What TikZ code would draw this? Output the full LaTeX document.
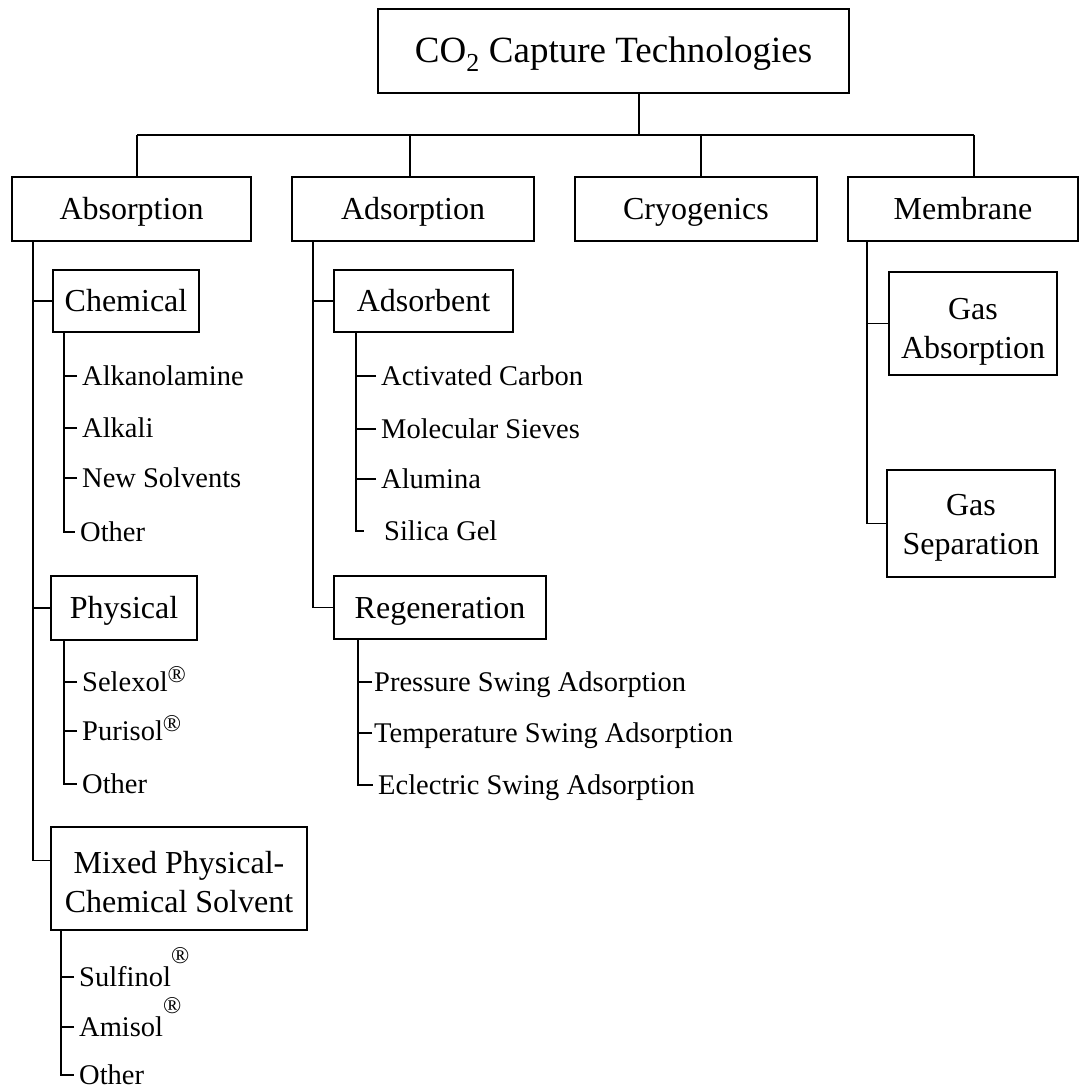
\documentclass[tikz,border=0pt]{standalone}
\usepackage{fontspec}
\setmainfont{Liberation Serif}
\usepackage{tikz}
\tikzset{TTnode/.style={draw,line width=1.6pt,inner sep=0pt,align=center,text height=24pt,text depth=0pt,font=\fontsize{37}{44}\selectfont},
	CTnode/.style={draw,line width=1.6pt,inner sep=0pt,align=center,font=\fontsize{32}{39}\selectfont},
	COnode/.style={CTnode,text height=21pt,text depth=0pt},
	LFnode/.style={anchor=west,inner xsep=5pt,inner ysep=0pt,text height=19pt,text depth=1pt,font=\fontsize{28.5}{32}\selectfont},
	CLine/.style={line width=1.4pt}}
\newcommand{\regA}{\raisebox{.3em}{\fontsize{24}{24}\selectfont\textregistered}}
\newcommand{\regB}{\raisebox{.8em}{\fontsize{24}{24}\selectfont\textregistered}}

\begin{document}
\begin{tikzpicture}[x=1pt,y=-1pt]
	\path[use as bounding box,fill=white] (0,0) rectangle (1081,1091);
	\node[TTnode,minimum width=471pt,minimum height=84pt] (T) at (613.5,51) {CO\textsubscript{2} Capture Technologies};
	\node[COnode,minimum width=239pt,minimum height=64pt] (A) at (131.5,209) {Absorption};
	\node[COnode,minimum width=242pt,minimum height=64pt] (B) at (413,209) {Adsorption};
	\node[COnode,minimum width=242pt,minimum height=64pt] (C) at (696,209) {Cryogenics};
	\node[COnode,minimum width=230pt,minimum height=64pt] (D) at (963,209) {Membrane};
	%
	\node[COnode,minimum width=146pt,minimum height=62pt] (A1) at (126,301) {Chemical};
	\node[COnode,minimum width=146pt,minimum height=64pt] (A2) at (124,608) {Physical};
	\node[CTnode,minimum width=256pt,minimum height=103pt] (A3) at (179,878.5) {\rule{0pt}{29pt}Mixed Physical-\\Chemical Solvent};
	\node[COnode,minimum width=179pt,minimum height=62pt] (B1) at (423.5,301) {Adsorbent};
	\node[COnode,minimum width=212pt,minimum height=63pt] (B2) at (440,607.5) {Regeneration};
	\node[CTnode,minimum width=168pt,minimum height=103pt] (D1) at (973,323.5) {\rule{0pt}{37pt}Gas\\Absorption};
	\node[CTnode,minimum width=168pt,minimum height=107pt] (D2) at (971,523.5) {\rule{0pt}{29pt}Gas\\Separation};
	%
	\node[LFnode] (A1a) at (77,376) {Alkanolamine};
	\node[LFnode] (A1b) at (77,428) {Alkali};
	\node[LFnode] (A1c) at (77,478) {New Solvents};
	\node[LFnode] (A1d) at (75,532) {Other};
	\node[LFnode] (A2a) at (77,682) {Selexol\regA};
	\node[LFnode] (A2b) at (77,731) {Purisol\regA};
	\node[LFnode] (A2c) at (77,784) {Other};
	\node[LFnode] (A3a) at (74,977) {Sulfinol\regB};
	\node[LFnode] (A3b) at (74,1027) {Amisol\regB};
	\node[LFnode] (A3c) at (74,1075) {Other};
	\node[LFnode] (B1a) at (376,376) {Activated Carbon};
	\node[LFnode] (B1b) at (376,429) {Molecular Sieves};
	\node[LFnode] (B1c) at (376,479) {Alumina};
	\node[LFnode,inner xsep=20pt] (B1d) at (364,531) {Silica Gel};
	\node[LFnode,inner xsep=2pt] (B2a) at (372,682) {Pressure Swing Adsorption};
	\node[LFnode,inner xsep=2pt] (B2b) at (372,733) {Temperature Swing Adsorption};
	\node[LFnode] (B2c) at (373,785) {Eclectric Swing Adsorption};
	%
	\coordinate (J) at (639,135);
	\coordinate (JA) at (137,135);
	\coordinate (JB) at (410,135);
	\coordinate (JC) at (701,135);
	\coordinate (JD) at (974,135);
	\coordinate (TA) at (33,0);
	\coordinate (TB) at (313,0);
	\coordinate (TD) at (867,0);
	\coordinate (SA1) at (64,0);
	\coordinate (SA2) at (64,0);
	\coordinate (SA3) at (61,0);
	\coordinate (SB1) at (356,0);
	\coordinate (SB2) at (358,0);
	%
	\draw[CLine] (T.south -| J) -- (J);
	\draw[CLine] (JA) -- (JD);
	\foreach \n/\j in {A/JA,B/JB,C/JC,D/JD}
		\draw[CLine] (\j) -- (\n.north -| \j);
	%
	\draw[CLine] (A.south -| TA) |- ([yshift=18pt]A3.west);
	\draw[CLine] (A1.west) -- (A1.west -| TA);
	\draw[CLine] (A2.west) -- (A2.west -| TA);
	\draw[CLine] (B.south -| TB) |- (B2.west);
	\draw[CLine] (B1.west) -- (B1.west -| TB);
	\draw[CLine] (D.south -| TD) |- (D2.west);
	\draw[CLine] (D1.west) -- (D1.west -| TD);
	%
	\draw[CLine] (A1.south -| SA1) |- (A1d.west);
	\draw[CLine] (A2.south -| SA2) |- (A2c.west);
	\draw[CLine] (A3.south -| SA3) |- (A3c.west);
	\draw[CLine] (B1.south -| SB1) |- (B1d.west);
	\draw[CLine] (B2.south -| SB2) |- (B2c.west);
	\foreach \l/\s in {A1a/SA1,A1b/SA1,A1c/SA1,A2a/SA2,A2b/SA2,A3a/SA3,A3b/SA3,B1a/SB1,B1b/SB1,B1c/SB1,B2a/SB2,B2b/SB2}
		\draw[CLine] (\l.west) -- (\l.west -| \s);
\end{tikzpicture}
\end{document}
